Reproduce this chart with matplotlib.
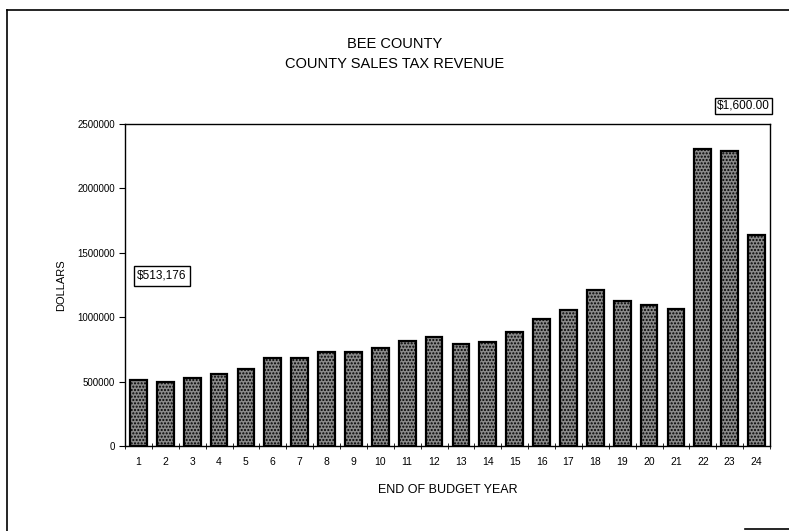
import numpy as np
import matplotlib.pyplot as plt
from matplotlib.lines import Line2D

# budget years and sales tax revenue (dollars)
years = list(range(1, 25))
revenue = [513176, 500000, 530000, 560000, 600000, 685000, 680000, 730000,
           730000, 760000, 815000, 845000, 790000, 810000, 885000, 985000,
           1055000, 1210000, 1125000, 1095000, 1065000, 2305000, 2290000, 1640000]
y_ticks = [0, 500000, 1000000, 1500000, 2000000, 2500000]

plt.rcParams['font.family'] = ['Liberation Sans', 'DejaVu Sans']
plt.rcParams['hatch.color'] = '#3a3a3a'

fig = plt.figure(figsize=(7.89, 5.31), dpi=100)
W, H = 789, 531
ax = fig.add_axes([125 / W, 1 - 446 / H, (770 - 125) / W, (446 - 124) / H])

ax.bar(years, revenue, width=0.62, color='#8a8a8a', edgecolor='black',
       linewidth=1.6, hatch='.....')

ax.set_xlim(0.5, 24.5)
ax.set_ylim(0, 2500000)
ax.set_yticks(y_ticks)
ax.set_yticklabels([str(v) for v in y_ticks], fontsize=7)
ax.set_xticks(years)
ax.set_xticklabels([str(y) for y in years], fontsize=7.5)
ax.set_xticks(np.arange(0.5, 25, 1), minor=True)
ax.tick_params(axis='x', which='major', length=0, pad=8)
ax.tick_params(axis='x', which='minor', length=4, direction='inout')
ax.tick_params(axis='y', length=4, direction='out', pad=3)
for s in ax.spines.values():
    s.set_linewidth(1.0)

ax.set_ylabel('DOLLARS', fontsize=8, labelpad=8)
ax.set_xlabel('END OF BUDGET YEAR', fontsize=9, labelpad=12)

fig.text(395 / W, 1 - 44 / H, 'BEE COUNTY', ha='center', va='center', fontsize=10.5)
fig.text(395 / W, 1 - 64 / H, 'COUNTY SALES TAX REVENUE', ha='center', va='center', fontsize=10.5)

ax.text(0.95, 1320000, '$513,176', fontsize=8.5, ha='left', va='center',
        bbox=dict(boxstyle='square,pad=0.3', facecolor='white', edgecolor='black', linewidth=1))
fig.text(717 / W, 1 - 106 / H, '$1,600.00', fontsize=8.5, ha='left', va='center',
         bbox=dict(boxstyle='square,pad=0.2', facecolor='white', edgecolor='black', linewidth=1))

# outer frame of the scanned page
fig.add_artist(Line2D([7 / W, 7 / W], [1 - 10 / H, 0.0], color='black', linewidth=1.2))
fig.add_artist(Line2D([7 / W, 1.0], [1 - 10 / H, 1 - 10 / H], color='black', linewidth=1.2))
fig.add_artist(Line2D([745 / W, 1.0], [1 - 529 / H, 1 - 529 / H], color='black', linewidth=1.2))

fig.savefig('out.png', dpi=100)
